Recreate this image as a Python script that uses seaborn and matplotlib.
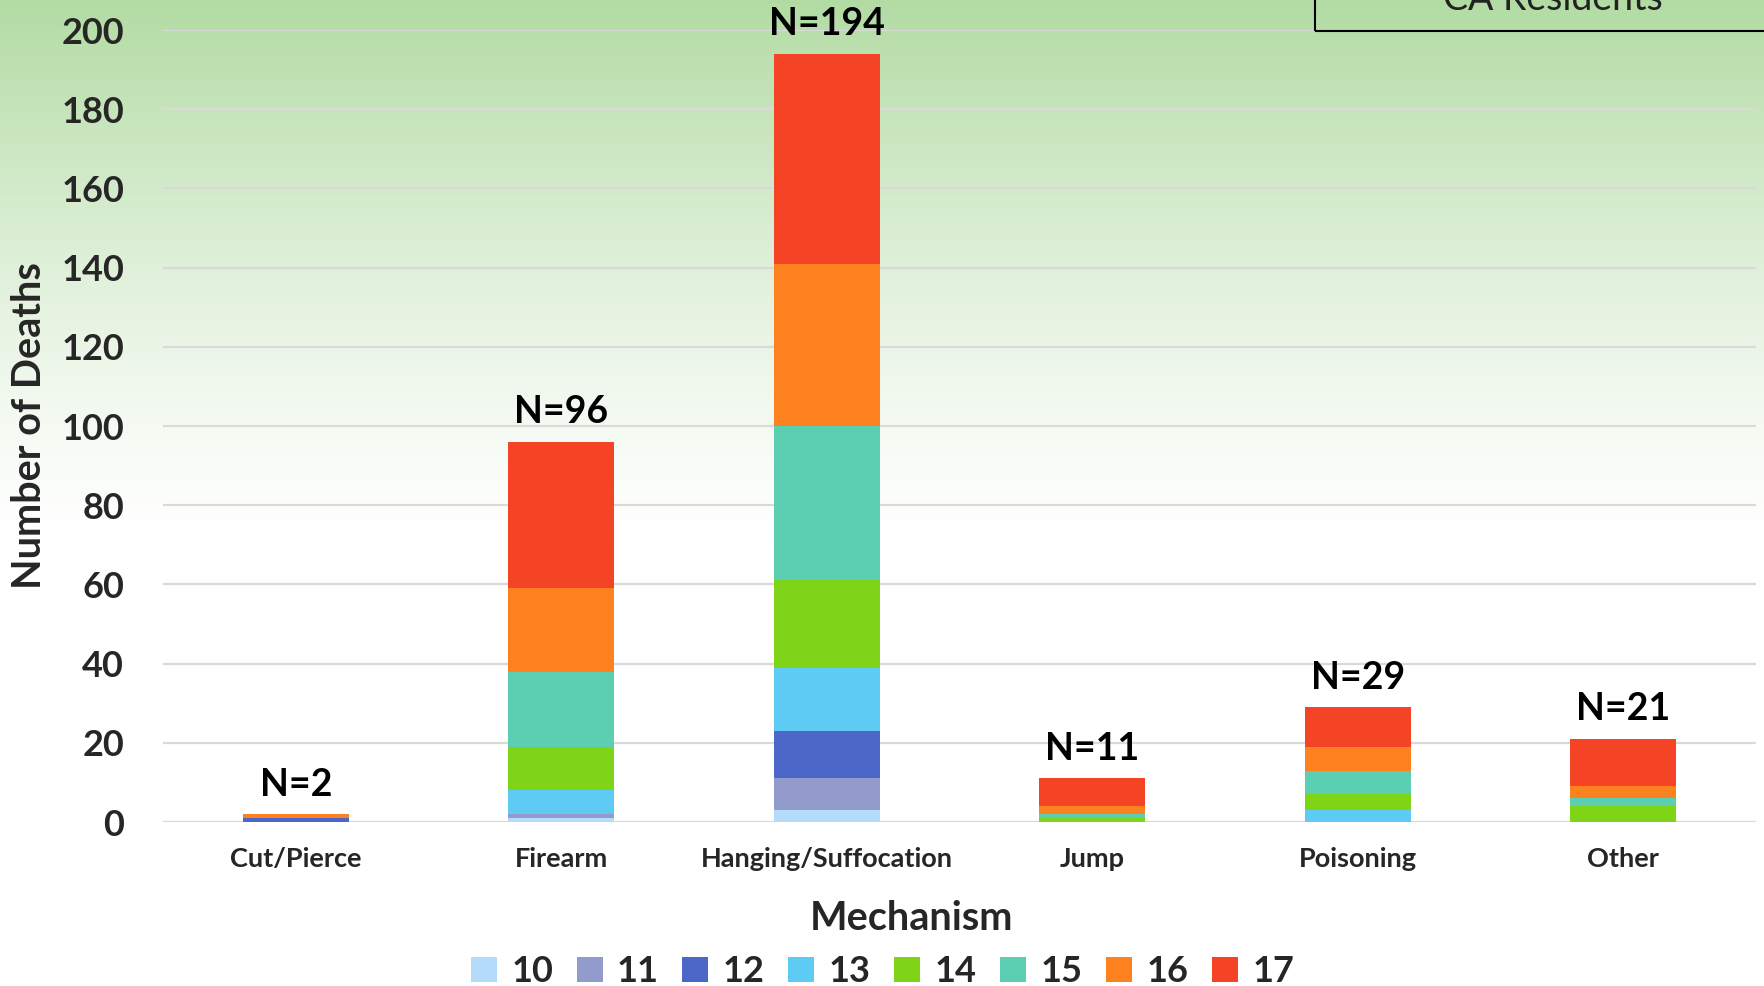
import numpy as np
import pandas as pd
import matplotlib
matplotlib.use('Agg')
import matplotlib.pyplot as plt
from matplotlib.patches import Patch, Rectangle
import seaborn as sns

# Data
mechanisms = ['Cut/Pierce', 'Firearm', 'Hanging/Suffocation', 'Jump', 'Poisoning', 'Other']
ages = ['10', '11', '12', '13', '14', '15', '16', '17']
age_10 = [0, 1, 3, 0, 0, 0]
age_11 = [0, 1, 8, 0, 0, 0]
age_12 = [1, 0, 12, 0, 0, 0]
age_13 = [0, 6, 16, 0, 3, 0]
age_14 = [0, 11, 22, 1, 4, 4]
age_15 = [0, 19, 39, 1, 6, 2]
age_16 = [1, 21, 41, 2, 6, 3]
age_17 = [0, 37, 53, 7, 10, 12]
colors = ['#b4dcfa', '#939bcc', '#4d67c8', '#5ecbf5', '#80d417', '#5ccfb2', '#fe8120', '#f44325']

counts = pd.DataFrame([age_10, age_11, age_12, age_13, age_14, age_15, age_16, age_17],
                      index=ages, columns=mechanisms)
cumulative = counts.cumsum(axis=0)
totals = counts.sum(axis=0)

sns.set_theme(style='white')
plt.rcParams['font.family'] = ['Lato', 'DejaVu Sans']

fig = plt.figure(figsize=(17.65, 9.86), dpi=100)

# green-to-white background gradient
bg = fig.add_axes([0, 0, 1, 1], zorder=0)
bg.axis('off')
t = np.linspace(0, 1, 400)[:, None]
a = np.clip(1 - t / 0.55, 0, 1) ** 1.3
green = np.array([0.70, 0.86, 0.64])
img = (1 - a[..., None]) * np.ones(3) + a[..., None] * green
img = np.repeat(img, 2, axis=1)
bg.imshow(img, aspect='auto', extent=[0, 1, 0, 1])
bg.set_xlim(0, 1)
bg.set_ylim(0, 1)

ax = fig.add_axes([0.0924, 0.1663, 0.9025, 0.8032], zorder=1)
ax.set_facecolor('none')

# stacked bars: draw cumulative totals from the top layer down
for age, col in reversed(list(zip(ages, colors))):
    sns.barplot(x=mechanisms, y=cumulative.loc[age].values, color=col, width=0.4,
                saturation=1, ax=ax, zorder=3, edgecolor='none')

for i, m in enumerate(mechanisms):
    ax.annotate(f'N={totals[m]}', (i, totals[m]), xytext=(0, 9), textcoords='offset points',
                ha='center', va='bottom', fontsize=27, fontweight='bold', color='black',
                annotation_clip=False)

ax.set_xlim(-0.5, 5.5)
ax.set_ylim(0, 200)
ax.set_yticks(range(0, 201, 20))
ax.yaxis.grid(True, color='#d9d9d9', linewidth=1.6, zorder=0)
ax.set_axisbelow(True)
for s in ax.spines.values():
    s.set_visible(False)
ax.tick_params(axis='y', length=0, pad=28, labelsize=26)
ax.tick_params(axis='x', length=0, pad=18, labelsize=19.5)
for lab in ax.get_yticklabels() + ax.get_xticklabels():
    lab.set_fontweight('bold')
ax.set_ylabel('Number of Deaths', fontsize=28.5, fontweight='bold')
ax.yaxis.set_label_coords(-0.072, 0.5)
ax.set_xlabel('Mechanism', fontsize=28.5, fontweight='bold')
ax.xaxis.set_label_coords(0.47, -0.098)

handles = [Patch(facecolor=c, edgecolor='none') for c in colors]
fig.legend(handles, ages, loc='lower center', bbox_to_anchor=(0.5, -0.035), ncol=8,
           frameon=False, prop={'size': 26, 'weight': 'bold'}, handlelength=0.72,
           handleheight=0.72, handletextpad=0.4, columnspacing=0.65)

# partially visible title box at the top right
fig.patches.append(Rectangle((0.745, 0.969), 0.3, 0.1, transform=fig.transFigure,
                             facecolor='none', edgecolor='black', linewidth=1.5, zorder=5))
fig.text(0.88, 0.99, 'CA Residents', ha='center', va='baseline', fontsize=27, color='#222222')

fig.savefig('out.png', dpi=100)
